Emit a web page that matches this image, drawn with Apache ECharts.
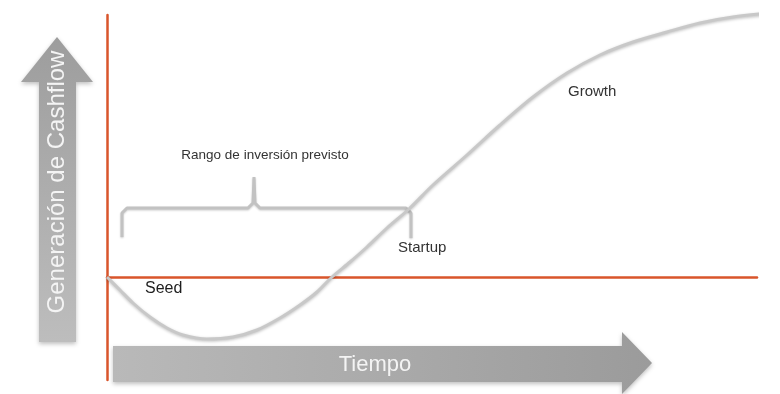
<!DOCTYPE html>
<html>
<head>
    <meta charset="utf-8">
    <title>Generación de Cashflow</title>
    <script src="https://cdn.jsdelivr.net/npm/echarts@6/dist/echarts.min.js"></script>
    <style>
        html, body { margin: 0; padding: 0; background: #fff; }
        #main { width: 780px; height: 394px; }
    </style>
</head>
<body>
<div id="main"></div>
<script type="text/javascript">
// tiempo (x) y cashflow (y) de la curva
var curveTime = [0, 1.3, 2.6, 4.3, 6.0, 7.6, 10.0, 12.6, 15.0, 17.3, 19.3, 21.0, 22.5, 24.3, 26.0, 28.0,
                 30.2, 32.6, 36.0, 39.3, 42.6, 46.0, 49.3, 52.6, 56.0, 59.3, 62.6, 67.3];
var curveCash = [0, -1.3, -2.6, -4.0, -5.1, -5.8, -6.2, -6.0, -5.3, -4.1, -2.8, -1.5, 0, 1.5, 3.0, 4.9,
                 6.8, 9.2, 12.2, 15.2, 18.0, 20.4, 22.2, 23.5, 24.5, 25.4, 26.0, 26.5];

// llave "Rango de inversión previsto"
var braceTime = [1.5, 1.5, 2.0, 14.1, 14.6, 14.7, 14.8, 15.3, 29.9, 30.4, 30.4];
var braceCash = [4.0, 6.4, 6.9, 6.9, 7.4, 10.0, 7.4, 6.9, 6.9, 6.4, 3.9];

var stageLabels = ['Seed', 'Startup', 'Growth'];
var braceLabel = 'Rango de inversión previsto';
var yAxisName = 'Generación de Cashflow';
var xAxisName = 'Tiempo';

var FONT = "'Liberation Sans', Arial, sans-serif";
var ORANGE = '#d9552b';

function zip(a, b) {
    var out = [];
    for (var i = 0; i < a.length; i++) out.push([a[i], b[i]]);
    return out;
}

var myChart = echarts.init(document.getElementById('main'));

var option = {
    backgroundColor: '#fff',
    animation: false,
    grid: { left: 107, right: 23, top: 15, bottom: 14 },
    xAxis: {
        type: 'value', min: 0, max: 65,
        axisLine: { show: true, onZero: true, lineStyle: { color: ORANGE, width: 2.5 } },
        axisTick: { show: false }, axisLabel: { show: false }, splitLine: { show: false }
    },
    yAxis: {
        type: 'value', min: -10.3, max: 26.2,
        axisLine: { show: true, lineStyle: { color: ORANGE, width: 2.5 } },
        axisTick: { show: false }, axisLabel: { show: false }, splitLine: { show: false }
    },
    series: [{
        type: 'line',
        data: zip(curveTime, curveCash),
        smooth: 0.3,
        showSymbol: false,
        clip: false,
        z: 3,
        lineStyle: { color: '#c8c8c8', width: 3, shadowBlur: 3, shadowColor: 'rgba(0,0,0,0.25)', shadowOffsetY: 1 }
    }, {
        type: 'line',
        data: zip(braceTime, braceCash),
        showSymbol: false,
        clip: false,
        z: 2,
        lineStyle: { color: '#c2c2c2', width: 3, shadowBlur: 2, shadowColor: 'rgba(0,0,0,0.2)', shadowOffsetY: 1 }
    }],
    graphic: [
        // flecha vertical
        {
            type: 'polygon',
            shape: { points: [[39, 342], [76, 342], [76, 82], [93, 82], [57, 37], [21, 82], [39, 82]] },
            style: {
                fill: new echarts.graphic.LinearGradient(0, 0, 0, 1, [
                    { offset: 0, color: '#9d9d9d' }, { offset: 1, color: '#bdbdbd' }
                ]),
                shadowBlur: 4, shadowColor: 'rgba(0,0,0,0.25)', shadowOffsetY: 2
            }
        },
        {
            type: 'text', x: 57, y: 182, rotation: Math.PI / 2,
            style: { text: yAxisName, fill: '#f4f4f4', font: '24px ' + FONT, align: 'center', verticalAlign: 'middle' }
        },
        // flecha horizontal
        {
            type: 'polygon',
            shape: { points: [[113, 346], [622, 346], [622, 332], [652, 363], [622, 394], [622, 382], [113, 382]] },
            style: {
                fill: new echarts.graphic.LinearGradient(0, 0, 1, 0, [
                    { offset: 0, color: '#b9b9b9' }, { offset: 1, color: '#9b9b9b' }
                ]),
                shadowBlur: 4, shadowColor: 'rgba(0,0,0,0.25)', shadowOffsetY: 2
            }
        },
        {
            type: 'text', x: 375, y: 365,
            style: { text: xAxisName, fill: '#f4f4f4', font: '22px ' + FONT, align: 'center', verticalAlign: 'middle' }
        },
        // etiquetas
        {
            type: 'text', x: 265, y: 155,
            style: { text: braceLabel, fill: '#333', font: '13.5px ' + FONT, align: 'center', verticalAlign: 'middle' }
        },
        {
            type: 'text', x: 145, y: 289,
            style: { text: stageLabels[0], fill: '#1e1e1e', font: '16px ' + FONT, align: 'left', verticalAlign: 'middle' }
        },
        {
            type: 'text', x: 398, y: 248,
            style: { text: stageLabels[1], fill: '#333', font: '15px ' + FONT, align: 'left', verticalAlign: 'middle' }
        },
        {
            type: 'text', x: 568, y: 92,
            style: { text: stageLabels[2], fill: '#333', font: '15px ' + FONT, align: 'left', verticalAlign: 'middle' }
        }
    ]
};

myChart.setOption(option);
</script>
</body>
</html>
